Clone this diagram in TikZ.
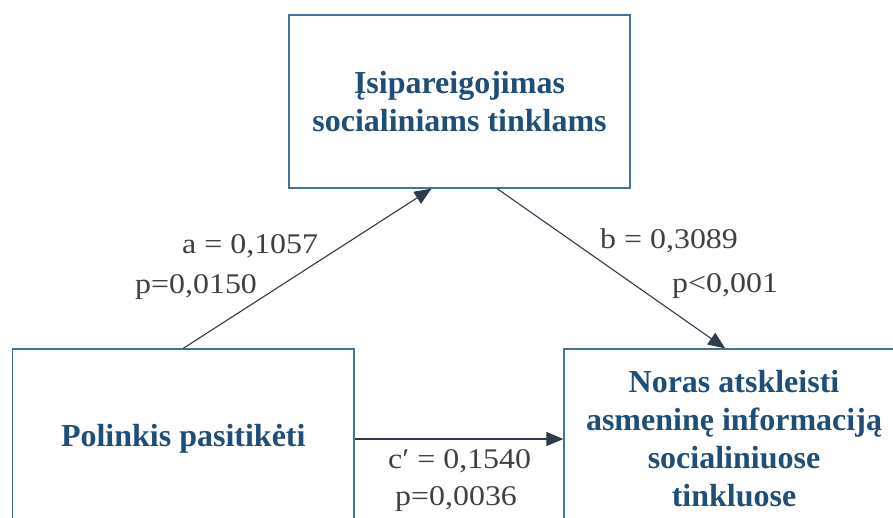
\documentclass[tikz,border=0pt]{standalone}
\usepackage{fontspec}
\usepackage{graphicx}
\setmainfont{Liberation Serif}
\usetikzlibrary{arrows.meta,calc}

\definecolor{boxline}{HTML}{41719C}
\definecolor{boxtext}{HTML}{1F4E79}
\definecolor{conncol}{HTML}{2F3A4A}
\definecolor{lblcol}{HTML}{404040}

% coefficient labels are set slightly wide
\newcommand\coef[1]{\scalebox{1.12}[1]{#1}}

\begin{document}
\begin{tikzpicture}[x=1pt,y=-1pt,
  varbox/.style={draw=boxline, line width=1.3pt, fill=white, align=center,
    text=boxtext, inner sep=0pt,
    font=\fontsize{32}{38}\selectfont\bfseries},
  conn/.style={draw=conncol, line width=1.1pt,
    -{Triangle[length=17pt,width=14pt]}},
  coeflabel/.style={anchor=base west, inner sep=0pt, text=lblcol,
    font=\fontsize{28.5}{34}\selectfont}
]
\useasboundingbox (0,0) rectangle (893,517);
\clip (0,0) rectangle (893,517);
\fill[white] (0,0) rectangle (893,517);

% variables
\node[varbox, minimum width=341, minimum height=173] (med) at (459.5,101.5)
  {Įsipareigojimas\\socialiniams tinklams};
\node[varbox, minimum width=341.5, minimum height=180] (pred) at (183.25,439)
  {Polinkis pasitikėti};
\node[varbox, minimum width=340, minimum height=180] (out) at (734,439)
  {Noras atskleisti\\asmeninę informaciją\\socialiniuose\\tinkluose};

% paths
\draw[conn] (pred.north) -- ($(med.south west)!0.418!(med.south east)$);
\draw[conn] ($(med.south west)!0.61!(med.south east)$)
  -- ($(out.north west)!0.474!(out.north east)$);
\draw[conn] (pred.east) -- (out.west);

% coefficients
\node[coeflabel] (la) at (182,253) {\coef{a = 0,1057}};
\node[coeflabel] (lap) at (135,293) {\coef{p=0,0150}};
\node[coeflabel] (lb) at (600,248) {\coef{b = 0,3089}};
\node[coeflabel] (lbp) at (672,292) {\coef{p<0,001}};
\node[coeflabel] (lc) at (388,468) {\coef{c′ = 0,1540}};
\node[coeflabel] (lcp) at (395,505) {\coef{p=0,0036}};
\end{tikzpicture}
\end{document}
